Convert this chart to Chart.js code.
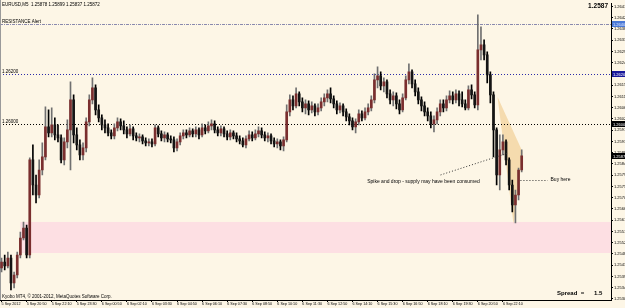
<!DOCTYPE html>
<html>
<head>
<meta charset="utf-8">
<script src="https://cdn.jsdelivr.net/npm/chart.js@4.4.0/dist/chart.umd.min.js"></script>
<style>
  html, body { margin: 0; padding: 0; background: #fdf6e6; }
  #wrap { width: 625px; height: 308px; position: relative; }
</style>
</head>
<body>
<div id="wrap"><canvas id="chart"></canvas></div>
<script>
// EURUSD candles, 10 minute buckets starting 5 Sep 2012 19:30
const timeLabels = ['5 Sep 2012', '5 Sep 20:50', '5 Sep 22:10', '5 Sep 23:30', '6 Sep 00:50', '6 Sep 02:10',
  '6 Sep 03:30', '6 Sep 04:50', '6 Sep 06:10', '6 Sep 07:30', '6 Sep 08:50', '6 Sep 10:10', '6 Sep 11:30',
  '6 Sep 12:50', '6 Sep 14:10', '6 Sep 15:30', '6 Sep 16:50', '6 Sep 18:10', '6 Sep 19:30', '6 Sep 20:50',
  '6 Sep 22:10'];
const barsPerLabel = 8;
const slotCount = 195;

const yTicks = [1.25300, 1.25345, 1.25390, 1.25435, 1.25480, 1.25525, 1.25570, 1.25615, 1.25660, 1.25705,
  1.25750, 1.25795, 1.25840, 1.25885, 1.25930, 1.25975, 1.26020, 1.26065, 1.26110, 1.26155, 1.26200,
  1.26245, 1.26290, 1.26335, 1.26380, 1.26425, 1.26470];
const yMin = 1.25296, yMax = 1.26482;

const opens = [
  1.25424, 1.25448, 1.25432, 1.25464, 1.25364, 1.25396, 1.25476, 1.25544, 1.25584, 1.25476,
  1.25856, 1.25756, 1.25716, 1.25816, 1.25868, 1.25988, 1.25964, 1.25996, 1.25956, 1.25944,
  1.25856, 1.25928, 1.25976, 1.26096, 1.25956, 1.25916, 1.25876, 1.25904, 1.26008, 1.26096,
  1.26144, 1.26056, 1.26024, 1.25996, 1.25984, 1.25964, 1.25952, 1.25984, 1.26008, 1.25992,
  1.25976, 1.25960, 1.25980, 1.25952, 1.25944, 1.25948, 1.25932, 1.25924, 1.25928, 1.25920,
  1.25984, 1.25960, 1.25944, 1.25956, 1.25940, 1.25936, 1.25904, 1.25928, 1.25952, 1.25964,
  1.25956, 1.25972, 1.25960, 1.25976, 1.25956, 1.25984, 1.25972, 1.25992, 1.26000, 1.25976,
  1.25964, 1.25980, 1.25960, 1.25948, 1.25964, 1.25952, 1.25940, 1.25932, 1.25916, 1.25940,
  1.25956, 1.25944, 1.25960, 1.25972, 1.25956, 1.25944, 1.25952, 1.25932, 1.25920, 1.25928,
  1.25912, 1.25936, 1.26048, 1.26096, 1.26072, 1.26120, 1.26088, 1.26064, 1.26080, 1.26056,
  1.26072, 1.26048, 1.26064, 1.26088, 1.26104, 1.26120, 1.26100, 1.26080, 1.26056, 1.26072,
  1.26048, 1.26028, 1.26012, 1.25988, 1.26008, 1.26040, 1.26024, 1.26048, 1.26064, 1.26096,
  1.26176, 1.26192, 1.26152, 1.26168, 1.26120, 1.26096, 1.26112, 1.26080, 1.26056, 1.26104,
  1.26176, 1.26208, 1.26160, 1.26128, 1.26096, 1.26072, 1.26048, 1.26032, 1.26000, 1.26016,
  1.26048, 1.26080, 1.26064, 1.26096, 1.26112, 1.26096, 1.26120, 1.26096, 1.26080, 1.26064,
  1.26136, 1.26116, 1.26076, 1.26296, 1.26316, 1.26276, 1.26196, 1.26116, 1.25976, 1.25796,
  1.25896, 1.25928, 1.25856, 1.25756, 1.25676, 1.25716, 1.25816
];
const highs = [
  1.25464, 1.25476, 1.25488, 1.25476, 1.25408, 1.25488, 1.25568, 1.25608, 1.25596, 1.25864,
  1.25916, 1.25796, 1.25856, 1.25924, 1.26068, 1.26056, 1.26064, 1.26024, 1.25996, 1.25956,
  1.25944, 1.26016, 1.26168, 1.26116, 1.25984, 1.25936, 1.25924, 1.26024, 1.26116, 1.26184,
  1.26156, 1.26076, 1.26036, 1.26016, 1.26000, 1.25976, 1.26000, 1.26024, 1.26020, 1.26012,
  1.25988, 1.25996, 1.25988, 1.25964, 1.25960, 1.25956, 1.25944, 1.25940, 1.25940, 1.25996,
  1.25992, 1.25972, 1.25968, 1.25964, 1.25952, 1.25948, 1.25940, 1.25964, 1.25976, 1.25976,
  1.25984, 1.25980, 1.25988, 1.25984, 1.26000, 1.25996, 1.26008, 1.26016, 1.26012, 1.25988,
  1.25992, 1.25988, 1.25972, 1.25976, 1.25972, 1.25964, 1.25952, 1.25944, 1.25952, 1.25972,
  1.25968, 1.25976, 1.25988, 1.25984, 1.25968, 1.25964, 1.25960, 1.25944, 1.25940, 1.25936,
  1.25948, 1.26076, 1.26116, 1.26112, 1.26144, 1.26128, 1.26104, 1.26096, 1.26092, 1.26088,
  1.26080, 1.26080, 1.26104, 1.26120, 1.26136, 1.26144, 1.26112, 1.26092, 1.26084, 1.26080,
  1.26060, 1.26040, 1.26024, 1.26020, 1.26056, 1.26052, 1.26064, 1.26080, 1.26112, 1.26200,
  1.26228, 1.26208, 1.26184, 1.26176, 1.26136, 1.26128, 1.26124, 1.26096, 1.26120, 1.26192,
  1.26240, 1.26216, 1.26176, 1.26144, 1.26108, 1.26088, 1.26064, 1.26048, 1.26032, 1.26064,
  1.26096, 1.26096, 1.26112, 1.26132, 1.26128, 1.26136, 1.26132, 1.26128, 1.26096, 1.26152,
  1.26156, 1.26128, 1.26436, 1.26388, 1.26336, 1.26288, 1.26208, 1.26128, 1.25984, 1.25956,
  1.25956, 1.25936, 1.25864, 1.25776, 1.25736, 1.25824, 1.25896
];
const lows = [
  1.25408, 1.25416, 1.25424, 1.25336, 1.25344, 1.25384, 1.25464, 1.25536, 1.25464, 1.25464,
  1.25716, 1.25684, 1.25704, 1.25796, 1.25856, 1.25948, 1.25948, 1.25936, 1.25928, 1.25844,
  1.25836, 1.25904, 1.25816, 1.25924, 1.25896, 1.25856, 1.25856, 1.25888, 1.25992, 1.26080,
  1.26036, 1.26008, 1.25976, 1.25964, 1.25952, 1.25940, 1.25940, 1.25972, 1.25976, 1.25960,
  1.25944, 1.25952, 1.25936, 1.25932, 1.25928, 1.25920, 1.25912, 1.25912, 1.25908, 1.25912,
  1.25948, 1.25932, 1.25928, 1.25928, 1.25924, 1.25888, 1.25892, 1.25916, 1.25940, 1.25944,
  1.25948, 1.25948, 1.25948, 1.25940, 1.25948, 1.25960, 1.25964, 1.25976, 1.25964, 1.25952,
  1.25952, 1.25948, 1.25936, 1.25936, 1.25940, 1.25928, 1.25920, 1.25908, 1.25904, 1.25932,
  1.25932, 1.25936, 1.25948, 1.25944, 1.25932, 1.25928, 1.25920, 1.25908, 1.25904, 1.25896,
  1.25892, 1.25928, 1.26032, 1.26056, 1.26064, 1.26072, 1.26048, 1.26040, 1.26036, 1.26044,
  1.26032, 1.26036, 1.26052, 1.26072, 1.26088, 1.26084, 1.26064, 1.26040, 1.26044, 1.26032,
  1.26012, 1.25996, 1.25976, 1.25964, 1.25996, 1.26012, 1.26016, 1.26036, 1.26052, 1.26084,
  1.26144, 1.26136, 1.26128, 1.26104, 1.26080, 1.26072, 1.26060, 1.26040, 1.26048, 1.26096,
  1.26160, 1.26144, 1.26112, 1.26080, 1.26052, 1.26032, 1.26012, 1.25984, 1.25968, 1.26000,
  1.26032, 1.26048, 1.26052, 1.26084, 1.26080, 1.26084, 1.26072, 1.26068, 1.26056, 1.26056,
  1.26100, 1.26064, 1.26056, 1.26256, 1.26256, 1.26164, 1.26084, 1.25868, 1.25756, 1.25736,
  1.25876, 1.25836, 1.25736, 1.25648, 1.25604, 1.25696, 1.25808
];
const closes = [
  1.25448, 1.25432, 1.25464, 1.25364, 1.25396, 1.25476, 1.25544, 1.25584, 1.25476, 1.25856,
  1.25756, 1.25716, 1.25816, 1.25868, 1.25988, 1.25964, 1.25996, 1.25956, 1.25944, 1.25856,
  1.25928, 1.25976, 1.26096, 1.25956, 1.25916, 1.25876, 1.25904, 1.26008, 1.26096, 1.26144,
  1.26056, 1.26024, 1.25996, 1.25984, 1.25964, 1.25952, 1.25984, 1.26008, 1.25992, 1.25976,
  1.25960, 1.25980, 1.25952, 1.25944, 1.25948, 1.25932, 1.25924, 1.25928, 1.25920, 1.25984,
  1.25960, 1.25944, 1.25956, 1.25940, 1.25936, 1.25904, 1.25928, 1.25952, 1.25964, 1.25956,
  1.25972, 1.25960, 1.25976, 1.25956, 1.25984, 1.25972, 1.25992, 1.26000, 1.25976, 1.25964,
  1.25980, 1.25960, 1.25948, 1.25964, 1.25952, 1.25940, 1.25932, 1.25916, 1.25940, 1.25956,
  1.25944, 1.25960, 1.25972, 1.25956, 1.25944, 1.25952, 1.25932, 1.25920, 1.25928, 1.25912,
  1.25936, 1.26048, 1.26096, 1.26072, 1.26120, 1.26088, 1.26064, 1.26080, 1.26056, 1.26072,
  1.26048, 1.26064, 1.26088, 1.26104, 1.26120, 1.26100, 1.26080, 1.26056, 1.26072, 1.26048,
  1.26028, 1.26012, 1.25988, 1.26008, 1.26040, 1.26024, 1.26048, 1.26064, 1.26096, 1.26176,
  1.26192, 1.26152, 1.26168, 1.26120, 1.26096, 1.26112, 1.26080, 1.26056, 1.26104, 1.26176,
  1.26208, 1.26160, 1.26128, 1.26096, 1.26072, 1.26048, 1.26032, 1.26000, 1.26016, 1.26048,
  1.26080, 1.26064, 1.26096, 1.26112, 1.26096, 1.26120, 1.26096, 1.26080, 1.26064, 1.26136,
  1.26116, 1.26076, 1.26296, 1.26316, 1.26276, 1.26196, 1.26116, 1.25976, 1.25796, 1.25896,
  1.25928, 1.25856, 1.25756, 1.25676, 1.25716, 1.25816, 1.25872
];

// horizontal objects on the chart
const resistanceLevel = 1.26400;
const midLevel = 1.26200;
const roundLevel = 1.26000;
const lastPrice = 1.25872;
const demandZone = { from: 6, top: 1.25608, bottom: 1.25484 };
const wedge = [[158.3, 1.26108], [166.3, 1.25888], [163.4, 1.25600]];
const spikeNote = { text: 'Spike and drop - supply may have been consumed', at: [116.7, 1.25768], line: [[140.1, 1.25796], [161.8, 1.25884]] };
const buyNote = { text: 'Buy here', at: [175.2, 1.25776], line: [[165.6, 1.25776], [174.3, 1.25776]] };

const BG = '#fdf6e6';
const BULL_BODY = '#7a2e2e', BEAR_BODY = '#141414';
const BULL_WICK = '#707070', BEAR_WICK = '#000000';
const FONT = "'Liberation Sans', Arial, sans-serif";

const slots = Array.from({ length: slotCount }, (_, i) => i);
const bodies = opens.map((o, i) => [o, closes[i]]);
const wicks = lows.map((l, i) => [l, highs[i]]);
const isUp = i => closes[i] >= opens[i];

function dotted(ctx, x1, y1, x2, y2, color, dash) {
  ctx.save();
  ctx.strokeStyle = color;
  ctx.lineWidth = 1;
  ctx.setLineDash(dash);
  ctx.beginPath();
  ctx.moveTo(x1, y1);
  ctx.lineTo(x2, y2);
  ctx.stroke();
  ctx.restore();
}

function axisBox(chart, price, fill, textColor) {
  const { ctx, chartArea: a, scales: { y } } = chart;
  const py = Math.round(y.getPixelForValue(price));
  ctx.save();
  ctx.fillStyle = fill;
  ctx.fillRect(a.right + 1, py - 3, 14, 6);
  ctx.fillStyle = textColor;
  ctx.font = '4px ' + FONT;
  ctx.textBaseline = 'middle';
  ctx.fillText(price.toFixed(5), a.right + 2, py + 0.5);
  ctx.restore();
}

const overlay = {
  id: 'overlay',
  beforeDraw(chart) {
    const { ctx, width, height } = chart;
    ctx.save();
    ctx.fillStyle = BG;
    ctx.fillRect(0, 0, width, height);
    ctx.restore();
  },
  beforeDatasetsDraw(chart) {
    const { ctx, chartArea: a, scales: { x, y } } = chart;
    ctx.save();
    // demand zone
    const zx = x.getPixelForValue(demandZone.from);
    const zt = y.getPixelForValue(demandZone.top);
    const zb = y.getPixelForValue(demandZone.bottom);
    ctx.fillStyle = '#fddfe3';
    ctx.fillRect(zx, zt, a.right - zx, zb - zt);
    // supply wedge
    ctx.fillStyle = 'rgba(238, 196, 128, 0.55)';
    ctx.beginPath();
    wedge.forEach(([i, p], k) => {
      const px = x.getPixelForValue(i), py = y.getPixelForValue(p);
      if (k) ctx.lineTo(px, py); else ctx.moveTo(px, py);
    });
    ctx.closePath();
    ctx.fill();
    // level lines
    const lvl = (p, c, d) => {
      const py = Math.round(y.getPixelForValue(p)) + 0.5;
      dotted(ctx, a.left, py, a.right, py, c, d);
    };
    lvl(resistanceLevel, '#8a8aae', [3, 1, 1, 1]);
    lvl(midLevel, '#2b2ba8', [1, 2]);
    lvl(roundLevel, '#000000', [1, 2]);
    // left frame
    ctx.fillStyle = '#9a9a9a';
    ctx.fillRect(0, 0, 1, a.bottom);
    ctx.restore();
  },
  afterDraw(chart) {
    const { ctx, chartArea: a, scales: { x, y } } = chart;
    const px = v => x.getPixelForValue(v);
    const py = v => y.getPixelForValue(v);
    ctx.save();
    ctx.fillStyle = '#000';
    ctx.textBaseline = 'alphabetic';
    ctx.font = '4.5px ' + FONT;
    ctx.fillText('EURUSD,M5  1.25878 1.25899 1.25837 1.25872', 2, 6);
    ctx.fillText('RESISTANCE Alert', 2, py(resistanceLevel) - 1);
    ctx.fillText(midLevel.toFixed(5), 2, py(midLevel) - 1);
    ctx.fillText(roundLevel.toFixed(5), 2, py(roundLevel) - 1);
    ctx.fillText('Kyobo MT4, \u00a9 2001-2012, MetaQuotes Software Corp.', 2, a.bottom - 2);

    // notes
    ctx.font = '5px ' + FONT;
    ctx.textBaseline = 'middle';
    dotted(ctx, px(spikeNote.line[0][0]), py(spikeNote.line[0][1]), px(spikeNote.line[1][0]), py(spikeNote.line[1][1]), '#333', [1, 2]);
    ctx.fillText(spikeNote.text, px(spikeNote.at[0]), py(spikeNote.at[1]));
    const by = Math.round(py(buyNote.line[0][1])) + 0.5;
    dotted(ctx, px(buyNote.line[0][0]), by, px(buyNote.line[1][0]), by, '#333', [1, 2]);
    ctx.fillText(buyNote.text, px(buyNote.at[0]), py(buyNote.at[1]));

    // price readouts
    ctx.textBaseline = 'alphabetic';
    ctx.font = 'bold 6.5px ' + FONT;
    ctx.textAlign = 'right';
    ctx.fillText(lastPrice.toFixed(4), 608, 8);
    ctx.font = 'bold 6px ' + FONT;
    ctx.textAlign = 'left';
    ctx.fillText('Spread  =', 557, 295);
    ctx.fillText('1.5', 594, 295);
    ctx.restore();

    axisBox(chart, resistanceLevel, '#4a78d6', '#dfe8ff');
    axisBox(chart, midLevel, '#18189a', '#ffffff');
    axisBox(chart, roundLevel, '#000000', '#ffffff');
    axisBox(chart, lastPrice, '#000000', '#ffffff');
  }
};

new Chart(document.getElementById('chart'), {
  type: 'bar',
  data: {
    labels: slots,
    datasets: [
      {
        data: bodies,
        backgroundColor: ctx => isUp(ctx.dataIndex) ? BULL_BODY : BEAR_BODY,
        barThickness: 2,
        minBarLength: 1,
        grouped: false,
        borderWidth: 0
      },
      {
        data: wicks,
        backgroundColor: ctx => isUp(ctx.dataIndex) ? BULL_WICK : BEAR_WICK,
        barThickness: 1,
        grouped: false,
        borderWidth: 0
      }
    ]
  },
  options: {
    responsive: true,
    maintainAspectRatio: false,
    animation: false,
    events: [],
    layout: { padding: 0 },
    plugins: { legend: { display: false }, tooltip: { enabled: false } },
    scales: {
      x: {
        type: 'category',
        offset: true,
        grid: { display: true, drawOnChartArea: false, offset: false, tickLength: 2, color: '#000' },
        border: { color: '#000' },
        ticks: {
          autoSkip: false,
          maxRotation: 0,
          align: 'start',
          padding: 0,
          color: '#000',
          font: { size: 3.7, family: FONT },
          callback: v => timeLabels[v / barsPerLabel]
        },
        afterBuildTicks: s => {
          s.ticks = s.ticks.filter(t => t.value % barsPerLabel === 0 && t.value / barsPerLabel < timeLabels.length);
        },
        afterFit: s => { s.height = 8; }
      },
      y: {
        position: 'right',
        min: yMin,
        max: yMax,
        grid: { drawOnChartArea: false, tickLength: 2, color: '#000' },
        border: { color: '#000' },
        ticks: {
          padding: 1,
          color: '#000',
          font: { size: 4, family: FONT },
          callback: v => v.toFixed(5)
        },
        afterBuildTicks: s => { s.ticks = yTicks.map(v => ({ value: v })); },
        afterFit: s => { s.width = 14; }
      }
    }
  },
  plugins: [overlay]
});
</script>
</body>
</html>
